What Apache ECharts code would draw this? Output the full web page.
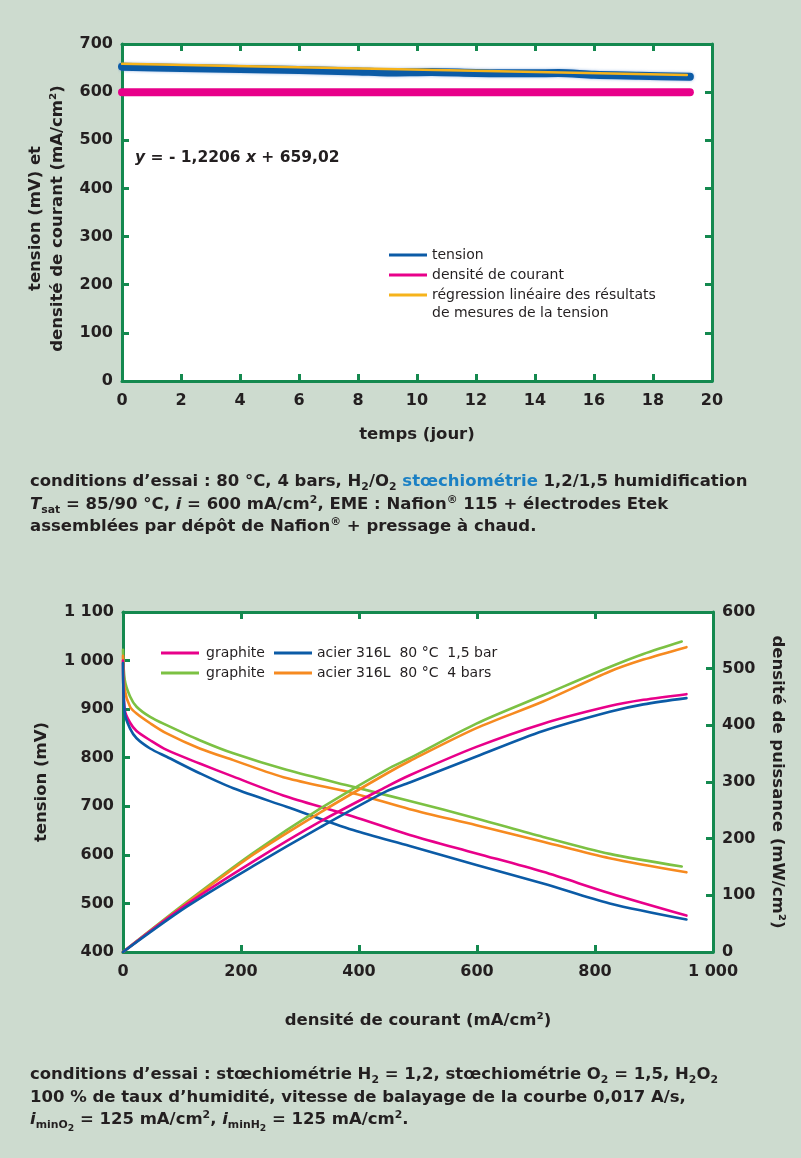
<!DOCTYPE html>
<html lang="fr">
<head>
<meta charset="utf-8">
<title>Essais de pile à combustible</title>
<script src="https://cdn.jsdelivr.net/npm/echarts@6/dist/echarts.min.js"></script>
<style>
  html, body { margin: 0; padding: 0; }
  body { width: 801px; height: 1158px; background: #cddbcf; position: relative; overflow: hidden;
         font-family: "DejaVu Sans", sans-serif; color: #231f20; }
  #chart { position: absolute; left: 0; top: 0; width: 801px; height: 1158px; }
  .caption { position: absolute; left: 30px; font-weight: bold; font-size: 16.5px; line-height: 22.5px;
             white-space: nowrap; letter-spacing: 0; }
  .caption sub, .caption sup { font-size: 0.66em; line-height: 0; }
  .caption sub sub { font-size: 0.85em; }
  .blue { color: #1b80c4; }
</style>
</head>
<body>
<div id="chart"></div>
<div class="caption" style="top:470px">
  conditions d’essai : 80 °C, 4 bars, H<sub>2</sub>/O<sub>2</sub> <span class="blue">stœchiométrie</span> 1,2/1,5 humidification<br>
  <i>T</i><sub>sat</sub> = 85/90 °C, <i>i</i> = 600 mA/cm<sup>2</sup>, EME : Nafion<sup>®</sup> 115 + électrodes Etek<br>
  assemblées par dépôt de Nafion<sup>®</sup> + pressage à chaud.
</div>
<div class="caption" style="top:1063px">
  conditions d’essai : stœchiométrie H<sub>2</sub> = 1,2, stœchiométrie O<sub>2</sub> = 1,5, H<sub>2</sub>O<sub>2</sub><br>
  100 % de taux d’humidité, vitesse de balayage de la courbe 0,017 A/s,<br>
  <i>i</i><sub>minO<sub>2</sub></sub> = 125 mA/cm<sup>2</sup>, <i>i</i><sub>minH<sub>2</sub></sub> = 125 mA/cm<sup>2</sup>.
</div>
<script>
// ---- Durability test: voltage and current density over time ----
const jours = [0, 2, 4, 6, 8, 9, 10.5, 12, 13.5, 14.8, 16, 17.5, 19.25];
const tensionMesuree = [653, 650, 648, 646, 643, 641, 642, 640, 639, 640, 636, 634, 632];
const densiteCourant = [600, 600, 600, 600, 600, 600, 600, 600, 600, 600, 600, 600, 600];
const regressionPente = -1.2206;
const regressionOrigine = 659.02;
const regressionJours = [0, 19.15];

const joursTicks = ['0', '2', '4', '6', '8', '10', '12', '14', '16', '18', '20'];
const tensionTicksHaut = ['0', '100', '200', '300', '400', '500', '600', '700'];

// ---- Polarisation curves (tension) and power density ----
const courantPol = [0, 3, 12, 23, 46, 74, 130, 187, 277, 390, 486, 599, 712, 825, 955];
const courantPolVert = [0, 3, 12, 23, 46, 74, 130, 187, 277, 390, 486, 599, 712, 825, 947];
const tensionGraphite15 = [1000, 898, 872, 855, 836, 816, 788, 761, 720, 679, 641, 603, 565, 521, 475];
const tensionGraphite4 = [1022, 960, 926, 905, 884, 867, 836, 809, 775, 740, 711, 675, 637, 602, 576];
const tensionAcier15 = [995, 891, 860, 840, 819, 802, 768, 737, 699, 651, 618, 579, 541, 500, 467];
const tensionAcier4 = [1010, 940, 905, 891, 871, 850, 819, 795, 758, 727, 694, 661, 627, 593, 564];

const courantPuis = [0, 108, 221, 334, 447, 486, 599, 712, 825, 882, 955];
const courantPuisVert = [0, 108, 221, 334, 447, 486, 599, 712, 825, 882, 947];
const puissanceGraphite15 = [0, 84, 160, 230, 292, 312, 362, 403, 434, 445, 455];
const puissanceGraphite4 = [0, 88, 175, 253, 322, 342, 403, 453, 503, 526, 548];
const puissanceAcier15 = [0, 80, 152, 220, 284, 299, 345, 390, 424, 437, 448];
const puissanceAcier4 = [0, 86, 172, 246, 315, 337, 395, 442, 495, 516, 538];

const courantTicks = ['0', '200', '400', '600', '800', '1 000'];
const tensionTicksBas = ['400', '500', '600', '700', '800', '900', '1 000', '1 100'];
const puissanceTicks = ['0', '100', '200', '300', '400', '500', '600'];

const nomGraphite15 = 'graphite 80 °C 1,5 bar';
const nomGraphite4 = 'graphite 80 °C 4 bars';
const nomAcier15 = 'acier 316L  80 °C  1,5 bar';
const nomAcier4 = 'acier 316L  80 °C  4 bars';

const FONT = 'DejaVu Sans';
const VERT_AXE = '#14894f';
const TEXTE = '#231f20';
const ROSE = '#e8008a';
const BLEU = '#0b5ba6';
const VERT = '#7cc143';
const ORANGE = '#f68a20';
const JAUNE = '#f6b31b';

const zip = (xs, ys) => xs.map((x, i) => [x, ys[i]]);

function axeX(grid, pos, min, max, interval, ticks, name, nameGap) {
  return {
    type: 'value', gridIndex: grid, position: pos, min: min, max: max, interval: interval,
    axisLine: { show: true, onZero: false, lineStyle: { color: VERT_AXE, width: 3 } },
    axisTick: { show: true, inside: true, length: 7, lineStyle: { color: VERT_AXE, width: 3 } },
    axisLabel: ticks ? {
      show: true, margin: 12, color: TEXTE, fontFamily: FONT, fontWeight: 'bold', fontSize: 16,
      formatter: (v, i) => ticks[i]
    } : { show: false },
    splitLine: { show: false },
    name: name || '', nameLocation: 'middle', nameGap: nameGap || 0,
    nameTextStyle: { color: TEXTE, fontFamily: FONT, fontWeight: 'bold', fontSize: 16.5 }
  };
}
function axeY(grid, pos, min, max, interval, ticks, name, nameGap) {
  const a = axeX(grid, pos, min, max, interval, ticks, name, nameGap);
  a.axisLabel.margin = 9;
  a.nameRotate = pos === 'right' ? -90 : 90;
  a.nameTextStyle.lineHeight = 22;
  return a;
}

function courbe(name, xi, yi, xs, ys, color, width) {
  return {
    name: name, type: 'line', xAxisIndex: xi, yAxisIndex: yi, data: zip(xs, ys),
    color: color, showSymbol: false, smooth: 0.3, silent: true,
    itemStyle: { color: color },
    lineStyle: { color: color, width: width || 2.6, cap: 'round', join: 'round' }
  };
}

const legendeTexte = { color: TEXTE, fontFamily: FONT, fontSize: 14, lineHeight: 16, padding: [0, 0, 0, 0] };

const chart = echarts.init(document.getElementById('chart'));
const regressionValeurs = regressionJours.map(j => regressionPente * j + regressionOrigine);

const axeTensionHaut = axeY(0, 'left', 0, 700, 100, tensionTicksHaut, 'tension (mV) et\ndensité de courant (mA/cm²)', 52);
axeTensionHaut.nameTextStyle.padding = [0, 12, 0, 0];

chart.setOption({
  animation: false,
  grid: [
    { left: 122, top: 44, width: 590, height: 337, show: true, backgroundColor: '#ffffff', borderWidth: 0 },
    { left: 123, top: 612, width: 590, height: 340, show: true, backgroundColor: '#ffffff', borderWidth: 0 }
  ],
  xAxis: [
    axeX(0, 'bottom', 0, 20, 2, joursTicks, 'temps (jour)', 45),
    axeX(0, 'top', 0, 20, 2, null),
    axeX(1, 'bottom', 0, 1000, 200, courantTicks, 'densité de courant (mA/cm²)', 60),
    axeX(1, 'top', 0, 1000, 200, null)
  ],
  yAxis: [
    axeTensionHaut,
    axeY(0, 'right', 0, 700, 100, null),
    axeY(1, 'left', 400, 1100, 100, tensionTicksBas, 'tension (mV)', 70),
    axeY(1, 'right', 0, 600, 100, puissanceTicks, 'densité de puissance (mW/cm²)', 50)
  ],
  legend: [
    {
      data: ['tension', 'densité de courant', 'régression linéaire des résultats'],
      orient: 'vertical', left: 389, top: 247, padding: 0, icon: 'rect', itemWidth: 38, itemHeight: 3,
      itemGap: 4, selectedMode: false, textStyle: legendeTexte
    },
    {
      data: [nomGraphite15, nomGraphite4],
      formatter: () => 'graphite',
      orient: 'vertical', left: 161, top: 645, padding: 0, icon: 'rect', itemWidth: 38, itemHeight: 3,
      itemGap: 4, selectedMode: false, textStyle: Object.assign({}, legendeTexte, { padding: [0, 0, 0, 2] })
    },
    {
      data: [nomAcier15, nomAcier4],
      orient: 'vertical', left: 274, top: 645, padding: 0, icon: 'rect', itemWidth: 38, itemHeight: 3,
      itemGap: 4, selectedMode: false, textStyle: legendeTexte
    }
  ],
  graphic: [
    {
      type: 'text', left: 135, top: 150,
      style: {
        text: '{i|y}{n| = - 1,2206 }{i|x}{n| + 659,02}',
        rich: {
          i: { fontFamily: FONT, fontSize: 15.5, fontWeight: 'bold', fontStyle: 'italic', fill: TEXTE },
          n: { fontFamily: FONT, fontSize: 15.5, fontWeight: 'bold', fill: TEXTE }
        }
      }
    },
    {
      type: 'text', left: 432, top: 306,
      style: { text: 'de mesures de la tension', fontFamily: FONT, fontSize: 14, fill: TEXTE }
    }
  ],
  series: [
    courbe('densité de courant', 0, 0, jours, densiteCourant, ROSE, 8),
    Object.assign(courbe('tension', 0, 0, jours, tensionMesuree, BLEU, 8), {
      lineStyle: { color: BLEU, width: 8, cap: 'round', join: 'round',
                   shadowColor: 'rgba(60,120,200,0.55)', shadowBlur: 3 }
    }),
    Object.assign(courbe('régression linéaire des résultats', 0, 0, regressionJours, regressionValeurs, JAUNE, 2.4),
                  { smooth: false }),

    courbe(nomGraphite4, 2, 2, courantPolVert, tensionGraphite4, VERT),
    courbe(nomAcier4, 2, 2, courantPol, tensionAcier4, ORANGE),
    courbe(nomGraphite15, 2, 2, courantPol, tensionGraphite15, ROSE),
    courbe(nomAcier15, 2, 2, courantPol, tensionAcier15, BLEU),

    courbe(nomGraphite4, 2, 3, courantPuisVert, puissanceGraphite4, VERT),
    courbe(nomAcier4, 2, 3, courantPuis, puissanceAcier4, ORANGE),
    courbe(nomGraphite15, 2, 3, courantPuis, puissanceGraphite15, ROSE),
    courbe(nomAcier15, 2, 3, courantPuis, puissanceAcier15, BLEU)
  ]
});
</script>
</body>
</html>
